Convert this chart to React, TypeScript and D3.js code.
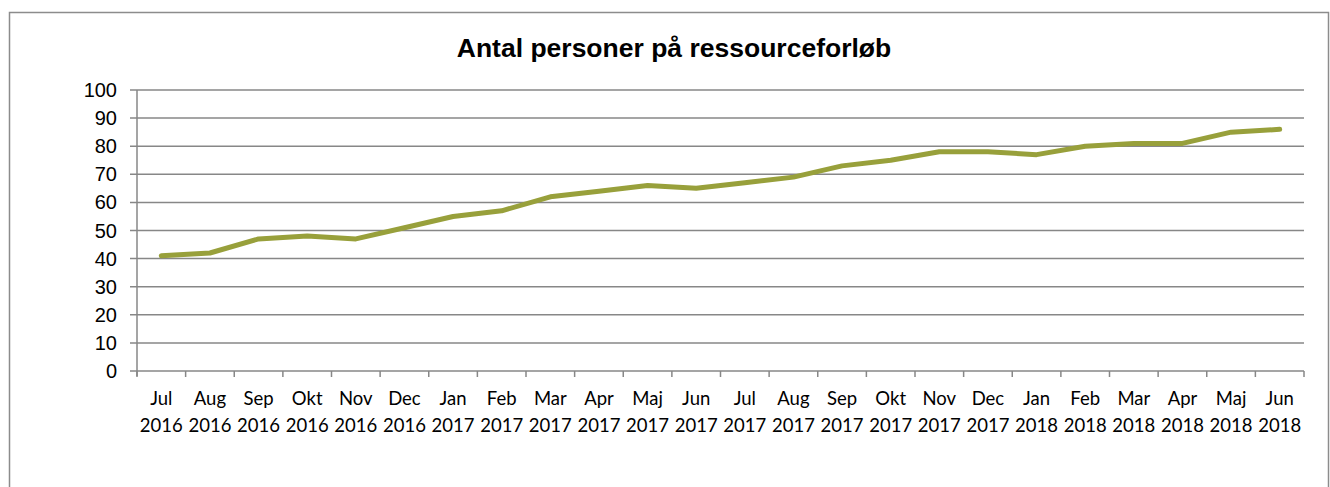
import React, { useEffect, useRef } from 'react';
import * as d3 from 'd3';

const months = ['Jul', 'Aug', 'Sep', 'Okt', 'Nov', 'Dec', 'Jan', 'Feb', 'Mar', 'Apr', 'Maj', 'Jun',
  'Jul', 'Aug', 'Sep', 'Okt', 'Nov', 'Dec', 'Jan', 'Feb', 'Mar', 'Apr', 'Maj', 'Jun'];
const years = ['2016', '2016', '2016', '2016', '2016', '2016', '2017', '2017', '2017', '2017', '2017', '2017',
  '2017', '2017', '2017', '2017', '2017', '2017', '2018', '2018', '2018', '2018', '2018', '2018'];
const persons = [41, 42, 47, 48, 47, 51, 55, 57, 62, 64, 66, 65, 67, 69, 73, 75, 78, 78, 77, 80, 81, 81, 85, 86];
const yTicks = [0, 10, 20, 30, 40, 50, 60, 70, 80, 90, 100];

const App = () => {
  const ref = useRef<SVGSVGElement | null>(null);

  useEffect(() => {
    const svg = d3.select(ref.current);
    svg.selectAll('*').remove();

    const W = 1330, H = 487;
    const left = 137, right = 1304, top = 90, bottom = 371;
    const keys = months.map((m, i) => i);

    // chart frame
    svg.append('rect')
      .attr('x', 9.5).attr('y', 12.5)
      .attr('width', W - 11).attr('height', H)
      .attr('fill', 'white').attr('stroke', '#8c8c8c').attr('stroke-width', 1.5);

    svg.append('text')
      .attr('x', 674).attr('y', 57)
      .attr('text-anchor', 'middle')
      .style('font-family', '"Liberation Sans", Arial, sans-serif')
      .style('font-weight', 'bold')
      .style('font-size', '26.5px')
      .attr('fill', '#000')
      .text('Antal personer på ressourceforløb');

    const x = d3.scaleBand<number>().domain(keys).range([left, right]);
    const y = d3.scaleLinear().domain([0, 100]).range([bottom, top]);

    // gridlines
    svg.append('g').selectAll('line').data(yTicks).enter().append('line')
      .attr('x1', left - 7).attr('x2', right)
      .attr('y1', d => y(d)).attr('y2', d => y(d))
      .attr('stroke', '#878787').attr('stroke-width', 1.5);

    svg.append('g').selectAll('text').data(yTicks).enter().append('text')
      .attr('x', left - 20).attr('y', d => y(d) + 7)
      .attr('text-anchor', 'end')
      .style('font-family', '"Liberation Sans", Arial, sans-serif')
      .style('font-size', '20px')
      .attr('fill', '#000')
      .text(d => d);

    // y axis line
    svg.append('line')
      .attr('x1', left).attr('x2', left).attr('y1', top).attr('y2', bottom + 5)
      .attr('stroke', '#878787').attr('stroke-width', 1.5);

    // x ticks at band edges
    const edges = keys.map(k => x(k) as number).concat([right]);
    svg.append('g').selectAll('line').data(edges).enter().append('line')
      .attr('x1', d => d).attr('x2', d => d).attr('y1', bottom).attr('y2', bottom + 6)
      .attr('stroke', '#878787').attr('stroke-width', 1.5);

    const lab = svg.append('g').selectAll('text').data(keys).enter().append('text')
      .attr('text-anchor', 'middle')
      .style('font-family', 'Lato, "Open Sans", sans-serif')
      .style('font-size', '18.5px')
      .attr('fill', '#000');
    lab.append('tspan')
      .attr('x', k => (x(k) as number) + x.bandwidth() / 2).attr('y', 405)
      .text(k => months[k]);
    lab.append('tspan')
      .attr('x', k => (x(k) as number) + x.bandwidth() / 2).attr('y', 432)
      .text(k => years[k]);

    const line = d3.line<number>()
      .x((d, i) => (x(i) as number) + x.bandwidth() / 2)
      .y(d => y(d));

    svg.append('path')
      .datum(persons)
      .attr('d', line)
      .attr('fill', 'none')
      .attr('stroke', '#98a03b')
      .attr('stroke-width', 5)
      .attr('stroke-linejoin', 'round')
      .attr('stroke-linecap', 'round');
  }, []);

  return (
    <svg ref={ref} width={1330} height={487}
      style={{ position: 'absolute', left: 0, top: 0, display: 'block' }} />
  );
};

export default App;
